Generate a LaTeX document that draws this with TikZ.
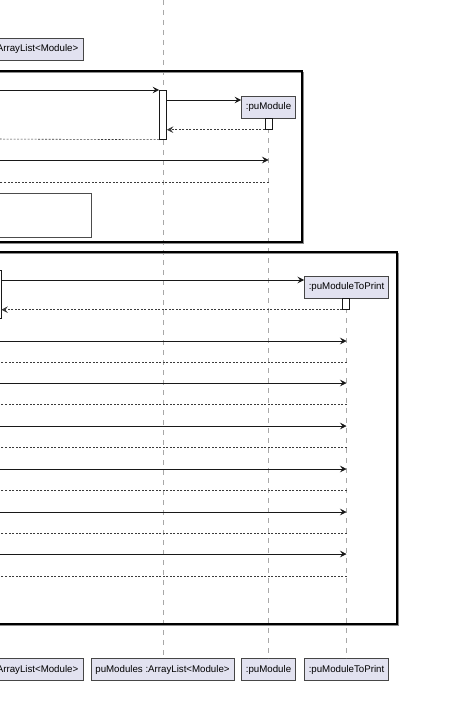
\documentclass[tikz,border=0pt]{standalone}
\usepackage{fontspec}
\setmainfont{Liberation Sans}
\usetikzlibrary{arrows.meta}
\definecolor{pbox}{HTML}{E2E2F0}
\definecolor{pline}{HTML}{181818}
\definecolor{lline}{HTML}{A8A8A8}
\begin{document}
\begin{tikzpicture}[x=1pt,y=-1pt,
  participant/.style={draw=pline!80, fill=pbox, line width=0.5pt, font=\fontsize{9.7}{11}\selectfont, minimum height=22pt, inner xsep=4.5pt, inner ysep=0pt},
  lifeline/.style={draw=lline, line width=0.6pt, dash pattern=on 5pt off 5pt},
  activation/.style={draw=pline, fill=white, line width=0.7pt, inner sep=0pt, minimum width=7pt},
  msg/.style={draw=pline, line width=0.6pt, -{Stealth[length=6.5pt,width=6.5pt,inset=2.5pt]}},
  ret/.style={msg, draw=pline!85, dash pattern=on 2pt off 1.5pt},
  groupframe/.style={draw=black, line width=1.5pt},
  groupshadow/.style={draw=black!45, line width=1pt},
  innerframe/.style={draw=black!70, line width=1pt}]
\useasboundingbox (0,0) rectangle (449,709);
\clip (0,0) rectangle (449,709);

% participants
\node[participant, anchor=east, text width=150pt, align=right] (alT) at (83,49) {ArrayList<Module>};
\node[participant] (pm) at (268.5,107) {:puModule};
\node[participant] (pmp) at (346.5,287) {:puModuleToPrint};
\node[participant, anchor=east, text width=150pt, align=right] (alB) at (83,669.5) {ArrayList<Module>};
\node[participant] (pmsB) at (162.5,669.5) {puModules :ArrayList<Module>};
\node[participant] (pmB) at (268.5,669.5) {:puModule};
\node[participant] (pmpB) at (346.5,669.5) {:puModuleToPrint};

% lifelines
\coordinate (l1top) at (163,0);
\draw[lifeline] (l1top) -- (l1top |- pmsB.north);
\draw[lifeline] (pm.south) -- (pmB.north);
\draw[lifeline] (pmp.south) -- (pmpB.north);

% group frames
\draw[groupshadow] (-10,72.5) rectangle (303.5,243.5);
\draw[groupframe] (-10,71) rectangle (302,242);
\draw[innerframe] (-10,193) rectangle (91,237);
\draw[groupshadow] (-10,253.5) rectangle (398.5,625.5);
\draw[groupframe] (-10,252) rectangle (397,624);

% activations
\node[activation, minimum height=49pt, anchor=north] (a1) at (163,90) {};
\node[activation, minimum height=11pt, anchor=north] (a2) at (268.5,118) {};
\node[activation, minimum width=5pt, minimum height=48pt, anchor=north] (a3) at (-1.5,270) {};
\node[activation, minimum height=11pt, anchor=north] (a4) at (346,298) {};

% frame 1 messages
\coordinate (m1) at (-10,90);
\draw[msg] (m1) -- (a1.north west);
\coordinate (m2) at (0,100);
\draw[msg] (a1.east |- m2) -- (pm.west |- m2);
\draw[ret] (a2.south west) -- (a1.east |- a2.south);
\coordinate (r1) at (-10,139);
\draw[ret] (a1.south west) -- (r1);
\coordinate (m3) at (-10,160);
\draw[msg] (m3) -- (pm.south |- m3);
\coordinate (r3) at (-10,182);
\draw[ret] (pm.south |- r3) -- (r3);

% frame 2 messages
\coordinate (m5) at (0,280);
\draw[msg] (a3.east |- m5) -- (pmp.west |- m5);
\draw[ret] (a4.south west) -- (a3.east |- a4.south);
\foreach \ya/\yb in {341/362, 383/404, 426/447, 469/490, 512/533, 554/576}{
  \coordinate (ma) at (-10,\ya);
  \draw[msg] (ma) -- (pmp.south |- ma);
  \coordinate (rb) at (-10,\yb);
  \draw[ret] (pmp.south |- rb) -- (rb);
}
\end{tikzpicture}
\end{document}
